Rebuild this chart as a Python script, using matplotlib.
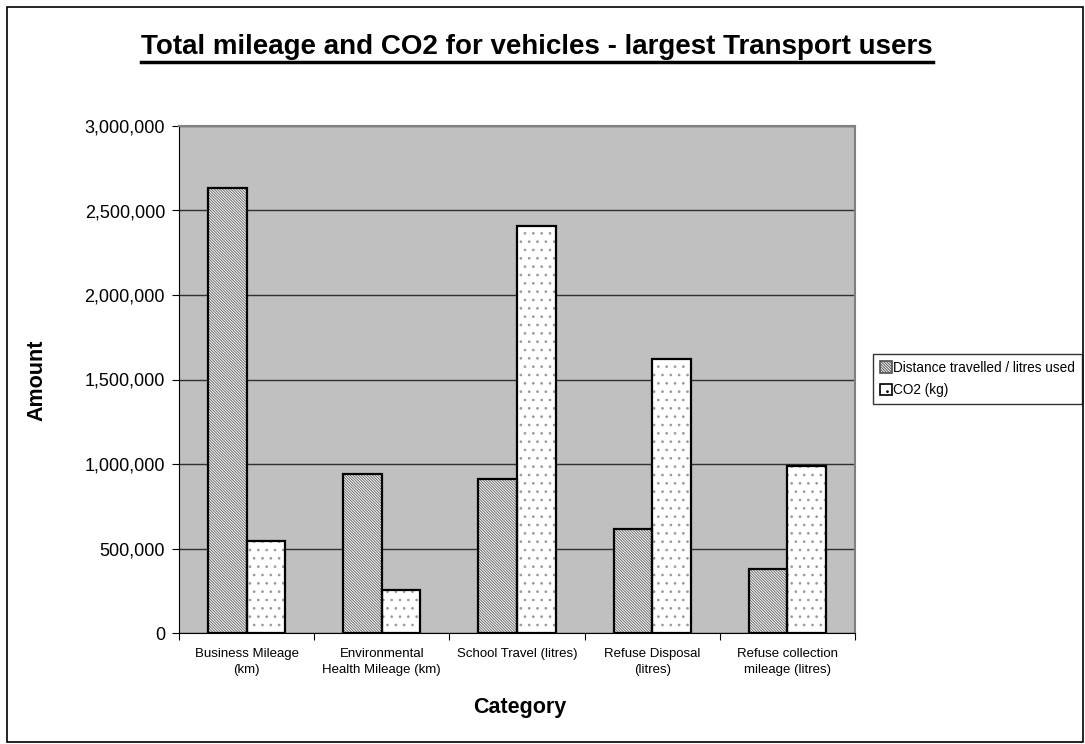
import matplotlib
matplotlib.use("Agg")
import matplotlib.pyplot as plt
from matplotlib.patches import Rectangle
from matplotlib.lines import Line2D
import numpy as np

plt.rcParams['font.family'] = ['Liberation Sans', 'DejaVu Sans']
plt.rcParams['hatch.linewidth'] = 0.7

# 数据
categories = ['Business Mileage\n(km)', 'Environmental\nHealth Mileage (km)',
              'School Travel (litres)', 'Refuse Disposal\n(litres)',
              'Refuse collection\nmileage (litres)']
distance = [2633000, 938000, 910000, 614000, 377000]
co2 = [545000, 255000, 2410000, 1623000, 988000]
series_names = ['Distance travelled / litres used', 'CO2 (kg)']
yticks = [0, 500000, 1000000, 1500000, 2000000, 2500000, 3000000]

fig = plt.figure(figsize=(10.85, 7.44), dpi=100)
ax = fig.add_axes([179 / 1085, 1 - 633 / 744, (855 - 179) / 1085, (633 - 126) / 744])
ax.set_facecolor('#C0C0C0')

x = np.arange(len(categories))
w = 1 / 3.5
dense = '\\' * 12

# 先画填充图案，再画黑色边框
ax.bar(x - w / 2, distance, w, color='white', edgecolor='#6a6a6a', hatch=dense, linewidth=0, zorder=3)
ax.bar(x + w / 2, co2, w, color='white', edgecolor='#999999', hatch='..', linewidth=0, zorder=3)
ax.bar(x - w / 2, distance, w, color='none', edgecolor='black', linewidth=1.6, zorder=4)
ax.bar(x + w / 2, co2, w, color='none', edgecolor='black', linewidth=1.6, zorder=4)

ax.set_xlim(-0.5, len(categories) - 0.5)
ax.set_ylim(0, 3000000)
ax.set_yticks(yticks)
ax.set_yticklabels([f'{v:,}' for v in yticks], fontsize=13)
ax.yaxis.grid(True, color='#303030', linewidth=1.0)
ax.set_axisbelow(True)

# x轴刻度在类别边界，标签在中间
ax.set_xticks(np.arange(len(categories) + 1) - 0.5)
ax.set_xticklabels([])
ax.set_xticks(x, minor=True)
ax.set_xticklabels(categories, minor=True, fontsize=9.5, linespacing=1.45)
ax.tick_params(axis='x', which='minor', length=0, pad=11)
ax.tick_params(axis='x', which='major', length=5, direction='out', color='black')
ax.tick_params(axis='y', length=5, direction='out', pad=5)

for s in ['top', 'right']:
    ax.spines[s].set_color('#808080')
    ax.spines[s].set_linewidth(1.5)
ax.spines['left'].set_color('black')
ax.spines['bottom'].set_color('black')

fig.text(520 / 1085, 1 - 708 / 744, 'Category', ha='center', va='center', fontsize=15.5, fontweight='bold')
fig.text(37 / 1085, 1 - 380 / 744, 'Amount', ha='center', va='center', fontsize=15.5, fontweight='bold', rotation=90)

title = fig.text(537 / 1085, 1 - 47 / 744, 'Total mileage and CO2 for vehicles - largest Transport users',
                 ha='center', va='center', fontsize=20, fontweight='bold')

# 图例
handles = [Rectangle((0, 0), 1, 1, facecolor='white', edgecolor='#505050', hatch=dense, linewidth=1.2),
           Rectangle((0, 0), 1, 1, facecolor='white', edgecolor='black', hatch='..', linewidth=1.2)]
leg = fig.legend(handles, series_names, loc='upper left', bbox_to_anchor=(873 / 1085, 1 - 354 / 744),
                 fontsize=9.8, frameon=True, fancybox=False, edgecolor='black', handlelength=0.9,
                 handleheight=0.9, handletextpad=0.1, borderpad=0.5, labelspacing=0.6, borderaxespad=0)
leg.get_frame().set_linewidth(1.0)

# 标题下划线
fig.canvas.draw()
bb = title.get_window_extent().transformed(fig.transFigure.inverted())
fig.add_artist(Line2D([bb.x0, bb.x1], [bb.y0 - 0.003, bb.y0 - 0.003], color='black', linewidth=2.5,
                      transform=fig.transFigure))

# 外框
fig.add_artist(Rectangle((7 / 1085, 1 - 742 / 744), (1083 - 7) / 1085, (742 - 7) / 744,
                         transform=fig.transFigure, fill=False, edgecolor='black', linewidth=1.2))

fig.savefig('out.png', dpi=100)
